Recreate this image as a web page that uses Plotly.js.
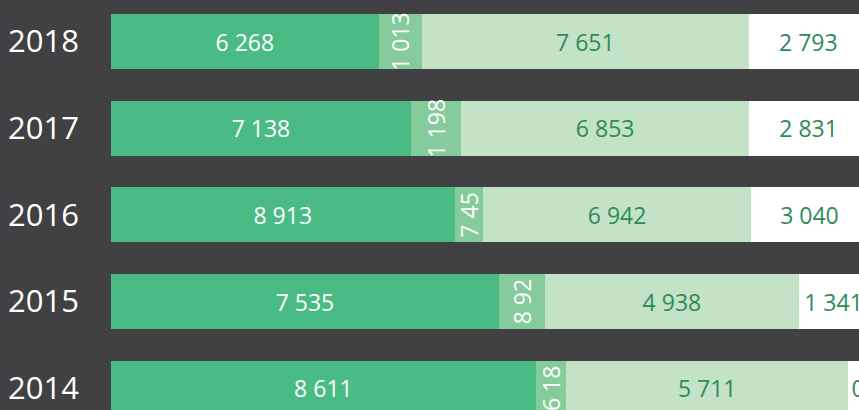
<!DOCTYPE html>
<html>
<head>
<meta charset="utf-8">
<script src="https://cdn.plot.ly/plotly-3.0.1.min.js"></script>
<style>
  html, body { margin: 0; padding: 0; background: #414042; }
  #chart { width: 859px; height: 410px; }
</style>
</head>
<body>
<div id="chart"></div>
<script>
// Data
const years = ['2018', '2017', '2016', '2015', '2014'];
const seriesA = [6268, 7138, 8913, 7535, 8611];
const seriesB = [1013, 1198, 745, 892, 618];
const seriesC = [7651, 6853, 6942, 4938, 5711];
const seriesD = [2793, 2831, 3040, 1341, 405];
const labelsA = ['6 268', '7 138', '8 913', '7 535', '8 611'];
const labelsB = ['1 013', '1 198', '7 45', '8 92', '6 18'];
const labelsC = ['7 651', '6 853', '6 942', '4 938', '5 711'];
const labelsD = ['2 793', '2 831', '3 040', '1 341', '0'];

const font = 'Open Sans, Noto Sans, sans-serif';
const darkText = '#2f8a5a';

function trace(vals, labels, color, txtColor, angle) {
  return {
    type: 'bar',
    orientation: 'h',
    y: years,
    x: vals,
    text: labels,
    textposition: 'inside',
    insidetextanchor: 'middle',
    constraintext: 'none',
    textangle: angle,
    textfont: { family: font, size: 23, color: txtColor },
    marker: { color: color, line: { width: 0 } },
    hoverinfo: 'none',
    showlegend: false
  };
}

const data = [
  trace(seriesA, labelsA, '#4abb84', '#ffffff', 0),
  trace(seriesB, labelsB, '#86cb9c', '#ffffff', -90),
  trace(seriesC, labelsC, '#c3e2c6', darkText, 0),
  trace(seriesD, labelsD, '#ffffff', darkText, 0)
];

const layout = {
  width: 859,
  height: 410,
  margin: { l: 111, r: 0, t: 0, b: 0, pad: 0 },
  paper_bgcolor: '#414042',
  plot_bgcolor: '#414042',
  barmode: 'stack',
  barnorm: 'percent',
  bargap: 0.366,
  xaxis: {
    range: [0, 98.81],
    showgrid: false,
    zeroline: false,
    showticklabels: false,
    showline: false,
    ticks: ''
  },
  yaxis: {
    type: 'category',
    categoryorder: 'array',
    categoryarray: years,
    range: [4.25, -0.479],
    showgrid: false,
    zeroline: false,
    showline: false,
    ticks: '',
    ticklabelstandoff: 31,
    tickfont: { family: font, size: 31, color: '#ffffff' }
  }
};

Plotly.newPlot('chart', data, layout, { staticPlot: true, displayModeBar: false });
</script>
</body>
</html>
